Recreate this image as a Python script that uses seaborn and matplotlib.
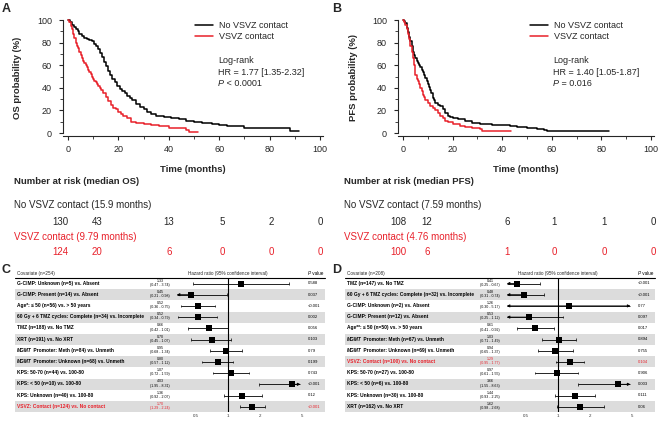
import numpy as np
import matplotlib
matplotlib.use("Agg")
import matplotlib.pyplot as plt
import seaborn as sns

RED = "#e8202a"
BAND = "#dcdcdc"

# ---- Kaplan-Meier curves ----
os_no_t = [0, 0.8, 1.5, 2.3, 3, 3.8, 4.5, 5.5, 6.5, 7.5, 8.5, 9.5, 10.5, 11.2, 12, 12.8, 13.6,
           14.4, 15.2, 16, 16.8, 17.6, 18.5, 19.5, 20.5, 21.5, 22.5, 23.5, 24.5, 25.5, 27, 28.5,
           30, 31.5, 33, 35, 38, 41, 44, 47, 50, 53, 57, 60, 63, 66, 70, 88, 91.5]
os_no_s = [100, 98, 96, 94, 92, 90, 88, 86, 84, 83, 82, 81, 79, 77, 74, 71, 67,
           63, 59, 55, 51, 48, 45, 42, 39, 37, 35, 33, 31, 29, 26, 23,
           21, 19, 17, 15, 14, 13, 12, 11, 10, 9, 8, 7.5, 6.5, 6, 4.5, 1.5, 1.5]
os_yes_t = [0, 0.5, 1, 1.5, 2, 2.5, 3, 3.5, 4, 4.5, 5, 5.5, 6, 6.5, 7, 7.5, 8, 8.5, 9, 9.5, 10,
            10.5, 11, 11.5, 12, 12.5, 13, 14, 15, 16, 17, 18, 19, 20, 21, 22, 23.5, 25, 27, 30,
            33, 36, 40, 47, 48, 51.5]
os_yes_s = [100, 98, 95, 92, 88, 84, 80, 77, 75, 72, 69, 66, 64, 62, 60, 58, 56, 54, 52, 50, 48,
            46, 45, 43, 42, 40, 38, 35, 32, 28, 25, 22, 21, 19, 17, 15, 13, 10, 9, 8,
            7.5, 6.5, 4.5, 2.5, 1, 1]
pfs_no_t = [0, 0.5, 1, 1.5, 2, 2.5, 3, 3.5, 4, 4.5, 5, 5.5, 6, 6.5, 7, 7.5, 8, 8.5, 9, 9.5, 10,
            10.5, 11, 11.5, 12, 12.5, 13, 14, 15, 16, 17, 18, 19, 20, 22, 25, 28, 31, 36, 43,
            46, 50, 54, 57, 58, 83]
pfs_no_s = [100, 99, 97, 93, 89, 85, 81, 77, 72, 69, 66, 64, 62, 60, 58, 56, 54, 51, 49, 46, 43,
            41, 38, 35, 31, 29, 27, 25, 24, 21, 18, 15, 14, 13, 12, 10.5, 9, 8, 7.5, 6,
            5, 4.5, 3.5, 3, 1.5, 1.5]
pfs_yes_t = [0, 0.5, 1, 1.5, 2, 2.5, 3, 3.5, 4, 4.5, 5, 5.5, 6, 6.5, 7, 7.5, 8, 8.5, 9, 10, 11,
             12, 13, 14, 15, 16, 17, 18, 20, 23, 25, 28, 31, 32, 43.5]
pfs_yes_s = [100, 98, 96, 92, 88, 83, 77, 72, 66, 60, 51, 48, 46, 43, 40, 37, 34, 32, 29.5, 27, 24,
             22, 20, 18, 15, 13, 11, 9.5, 8, 6.5, 5.5, 4.5, 3.5, 2, 2]

risk_os_no = [130, 43, 13, 5, 2, 0]
risk_os_yes = [124, 20, 6, 0, 0, 0]
risk_pfs_no = [108, 12, 6, 1, 1, 0]
risk_pfs_yes = [100, 6, 1, 0, 0, 0]

# ---- forest plot C (OS, n=254) ----
cov_c = ["G-CIMP: Unknown (n=5) vs. Absent",
         "G-CIMP: Present (n=14) vs. Absent",
         "Age*: \u2264 50 (n=56) vs. > 50 years",
         "60 Gy + 6 TMZ cycles: Complete (n=34) vs. Incomplete",
         "TMZ (n=188) vs. No TMZ",
         "XRT (n=191) vs. No XRT",
         "MGMT Promoter: Meth (n=84) vs. Unmeth",
         "MGMT Promoter: Unknown (n=68) vs. Unmeth",
         "KPS: 50-70 (n=44) vs. 100-80",
         "KPS: < 50 (n=10) vs. 100-80",
         "KPS: Unknown (n=40) vs. 100-80",
         "VSVZ: Contact (n=124) vs. No contact"]
hr_c = [1.33, 0.45, 0.52, 0.52, 0.66, 0.70, 0.95, 0.80, 1.07, 4.03, 1.36, 1.70]
lo_c = [0.47, 0.21, 0.36, 0.34, 0.42, 0.45, 0.68, 0.57, 0.72, 1.95, 0.92, 1.29]
hi_c = [3.74, 0.98, 0.75, 0.79, 1.01, 1.07, 1.34, 1.12, 1.59, 8.31, 2.07, 2.24]
p_c = ["0.588", "0.037", "<0.001", "0.002", "0.056", "0.103", "0.79", "0.199",
       "0.743", "<0.001", "0.12", "<0.001"]

# ---- forest plot D (PFS, n=208) ----
cov_d = ["TMZ (n=147) vs. No TMZ",
         "60 Gy + 6 TMZ cycles: Complete (n=32) vs. Incomplete",
         "G-CIMP: Unknown (n=2) vs. Absent",
         "G-CIMP: Present (n=12) vs. Absent",
         "Age**: \u2264 50 (n=50) vs. > 50 years",
         "MGMT Promoter: Meth (n=67) vs. Unmeth",
         "MGMT Promoter: Unknown (n=69) vs. Unmeth",
         "VSVZ: Contact (n=100) vs. No contact",
         "KPS: 50-70 (n=27) vs. 100-80",
         "KPS: < 50 (n=6) vs. 100-80",
         "KPS: Unknown (n=30) vs. 100-80",
         "XRT (n=162) vs. No XRT"]
hr_d = [0.41, 0.48, 1.26, 0.53, 0.61, 1.03, 0.94, 1.29, 0.97, 3.66, 1.44, 1.62]
lo_d = [0.25, 0.31, 0.30, 0.25, 0.41, 0.71, 0.65, 0.95, 0.61, 1.55, 0.93, 0.98]
hi_d = [0.67, 0.74, 5.17, 1.12, 0.92, 1.49, 1.37, 1.77, 1.55, 8.63, 2.25, 2.68]
p_d = ["<0.001", "<0.001", "0.77", "0.097", "0.017", "0.894", "0.755", "0.104",
       "0.906", "0.003", "0.111", "0.06"]

sns.set_style("ticks")
plt.rcParams["font.family"] = ["Liberation Sans", "DejaVu Sans"]

W, H = 660, 421
fig = plt.figure(figsize=(6.6, 4.21), dpi=100)


def px_rect(x0, y0, x1, y1):
    return [x0 / W, 1 - y1 / H, (x1 - x0) / W, (y1 - y0) / H]


# full-figure layer in pixel coordinates for tables / labels
lay = fig.add_axes([0, 0, 1, 1])
lay.set_xlim(0, W)
lay.set_ylim(H, 0)
lay.axis("off")


def rich(x, y, parts, size, color="k", ha="left"):
    """draw text pieces one after another (for italic words)"""
    prev = None
    for txt, style, weight in parts:
        kw = dict(fontsize=size, color=color, style=style, weight=weight, va="bottom")
        if prev is None:
            prev = lay.text(x, y, txt, ha=ha, **kw)
        else:
            prev = lay.annotate(txt, xy=(1, 0), xycoords=prev, ha="left", **kw)
    return prev


def km_panel(x0, x1, curves, ylabel, hr_txt, p_txt, leg_x, txt_x):
    ax = fig.add_axes(px_rect(x0, 18.9, x1, 136.4))
    for t, s, col, lab in curves:
        sns.lineplot(x=t, y=s, ax=ax, color=col, lw=1.1, drawstyle="steps-post",
                     estimator=None, sort=False, label=lab)
    ax.set_xlim(-2, 101)
    ax.set_ylim(-3, 101)
    ax.set_xticks(range(0, 101, 20))
    ax.set_yticks(range(0, 101, 20))
    ax.set_xticks(range(10, 100, 20), minor=True)
    ax.set_yticks(range(10, 100, 20), minor=True)
    ax.spines["left"].set_bounds(0, 100)
    sns.despine(ax=ax)
    for sp in ("left", "bottom"):
        ax.spines[sp].set_linewidth(0.8)
    ax.tick_params(which="major", length=3, width=0.8, labelsize=6.5)
    ax.tick_params(which="minor", length=2, width=0.6)
    ax.tick_params(axis="y", pad=5)
    ax.tick_params(axis="x", pad=3)
    ax.set_xlabel("Time (months)", fontsize=6.8, weight="bold")
    ax.set_ylabel(ylabel, fontsize=6.8, weight="bold")
    ax.xaxis.set_label_coords(0.5, -0.245)
    ax.yaxis.set_label_coords(-0.158, 0.5)
    ax.legend(frameon=False, loc="upper left", bbox_to_anchor=(leg_x, 0.985),
              fontsize=6.5, handlelength=2.0, handletextpad=0.6, labelspacing=0.3,
              borderaxespad=0, borderpad=0)
    ax.text(txt_x, 0.650, "Log-rank", transform=ax.transAxes, fontsize=6.5, va="center")
    ax.text(txt_x, 0.548, hr_txt, transform=ax.transAxes, fontsize=6.5, va="center")
    pt = ax.text(txt_x, 0.446, "P", transform=ax.transAxes, fontsize=6.5, va="center",
                 style="italic")
    ax.annotate(p_txt, xy=(1, 0.5), xycoords=pt, fontsize=6.5, va="center")
    return ax


km_panel(63, 322.5,
         [(os_no_t, os_no_s, "k", "No VSVZ contact"), (os_yes_t, os_yes_s, RED, "VSVZ contact")],
         "OS probability (%)", "HR = 1.77 [1.35-2.32]", " < 0.0001", 0.509, 0.597)
km_panel(398, 653.5,
         [(pfs_no_t, pfs_no_s, "k", "No VSVZ contact"), (pfs_yes_t, pfs_yes_s, RED, "VSVZ contact")],
         "PFS probability (%)", "HR = 1.40 [1.05-1.87]", " = 0.016", 0.517, 0.607)

# panel letters
for lx, ly, letter in [(2, 3, "A"), (332, 3, "B"), (2, 264, "C"), (332, 264, "D")]:
    lay.text(lx, ly, letter, fontsize=9, weight="bold", va="top", ha="left")

# number at risk tables
def risk_table(x_lab, xs, title, lab_no, lab_yes, no_vals, yes_vals):
    lay.text(x_lab, 182, title, fontsize=6.8, weight="bold", va="center")
    lay.text(x_lab, 205, lab_no, fontsize=7, va="center")
    lay.text(x_lab, 237, lab_yes, fontsize=7, va="center", color=RED)
    for x, a, b in zip(xs, no_vals, yes_vals):
        lay.text(x, 222, str(a), fontsize=7, va="center", ha="center")
        lay.text(x, 252, str(b), fontsize=7, va="center", ha="center", color=RED)


risk_table(14, [60, 97, 169, 222, 271, 320], "Number at risk (median OS)",
           "No VSVZ contact (15.9 months)", "VSVZ contact (9.79 months)",
           risk_os_no, risk_os_yes)
risk_table(344, [398, 427, 507, 554, 604, 653], "Number at risk (median PFS)",
           "No VSVZ contact (7.59 months)", "VSVZ contact (4.76 months)",
           risk_pfs_no, risk_pfs_yes)

# forest tables
ROW0, DY = 283.5, 11.2
LO_CLIP, HI_CLIP = 0.33, 4.8
XMIN, XMAX = 0.3, 5.4
PPD = 32.0  # pixels per doubling


def forest(dx, n, covs, hr, lo, hi, pv, red_row):
    ys = [ROW0 + DY * i for i in range(len(covs))]
    x_one = 228 + dx
    # bands
    for i, y in enumerate(ys):
        if i % 2 == 1:
            lay.add_patch(plt.Rectangle((15 + dx, y - DY / 2), 310, DY, color=BAND, lw=0, zorder=0))
    # header
    lay.text(17 + dx, 276, f"Covariate (n={n})", fontsize=3.3, va="bottom")
    lay.text(x_one, 276, "Hazard ratio (95% confidence interval)", fontsize=3.3,
             va="bottom", ha="center")
    rich(308 + dx, 276, [("P", "italic", "normal"), (" value", "normal", "normal")], 3.3)
    lay.plot([15 + dx, 325 + dx], [278, 278], color="k", lw=0.8)
    for i, (y, c) in enumerate(zip(ys, covs)):
        col = RED if i == red_row else "k"
        if c.startswith("MGMT"):
            rich(17 + dx, y + 2.2, [("MGMT", "italic", "bold"), (c[4:], "normal", "bold")], 3.5, col)
        else:
            lay.text(17 + dx, y + 2.2, c, fontsize=3.5, weight="bold", color=col, va="bottom")
        lay.text(160 + dx, y - 1.0, f"{hr[i]:.2f}", fontsize=2.6, color=col, ha="center", va="bottom")
        lay.text(160 + dx, y - 0.6, f"({lo[i]:.2f} - {hi[i]:.2f})", fontsize=2.6, color=col,
                 ha="center", va="top")
        lay.text(308 + dx, y, pv[i], fontsize=3.0, color=col, va="center")

    left = x_one - PPD * np.log2(1 / XMIN)
    right = x_one + PPD * np.log2(XMAX)
    ax = fig.add_axes(px_rect(left, ROW0 - DY / 2, right, ys[-1] + DY / 2))
    ax.patch.set_alpha(0)
    ax.set_xscale("log")
    ax.set_xlim(XMIN, XMAX)
    ax.set_ylim(len(covs) - 0.5, -0.5)
    for sp in ax.spines.values():
        sp.set_visible(False)
    ax.axvline(1, color="k", lw=0.8, zorder=1)
    rows = np.arange(len(covs))
    lo_a, hi_a = np.array(lo), np.array(hi)
    lo_k = np.clip(lo_a, LO_CLIP, HI_CLIP)
    hi_k = np.clip(hi_a, LO_CLIP, HI_CLIP)
    ax.hlines(rows, lo_k, hi_k, color="k", lw=0.6, zorder=2)
    for r in rows:
        for raw, clip in ((lo_a[r], lo_k[r]), (hi_a[r], hi_k[r])):
            if raw == clip:
                ax.vlines(clip, r - 0.12, r + 0.12, color="k", lw=0.5, zorder=2)
            else:
                ax.annotate("", xy=(clip, r), xytext=(hr[r], r),
                            arrowprops=dict(arrowstyle="-|>", lw=0.6, color="k",
                                            mutation_scale=4, shrinkA=0, shrinkB=0))
    sns.scatterplot(x=hr, y=rows, ax=ax, marker="s", s=14, color="k", linewidth=0, zorder=3)
    ax.set_xticks([0.5, 1, 2, 5], labels=["0.5", "1", "2", "5"])
    ax.minorticks_off()
    ax.set_yticks([])
    ax.tick_params(axis="x", length=0, labelsize=3.2, pad=1.5, colors="#333333")
    ax.set_xlabel("")
    ax.set_ylabel("")


forest(0, 254, cov_c, hr_c, lo_c, hi_c, p_c, red_row=11)
forest(330, 208, cov_d, hr_d, lo_d, hi_d, p_d, red_row=7)

fig.savefig("out.png", dpi=100)
